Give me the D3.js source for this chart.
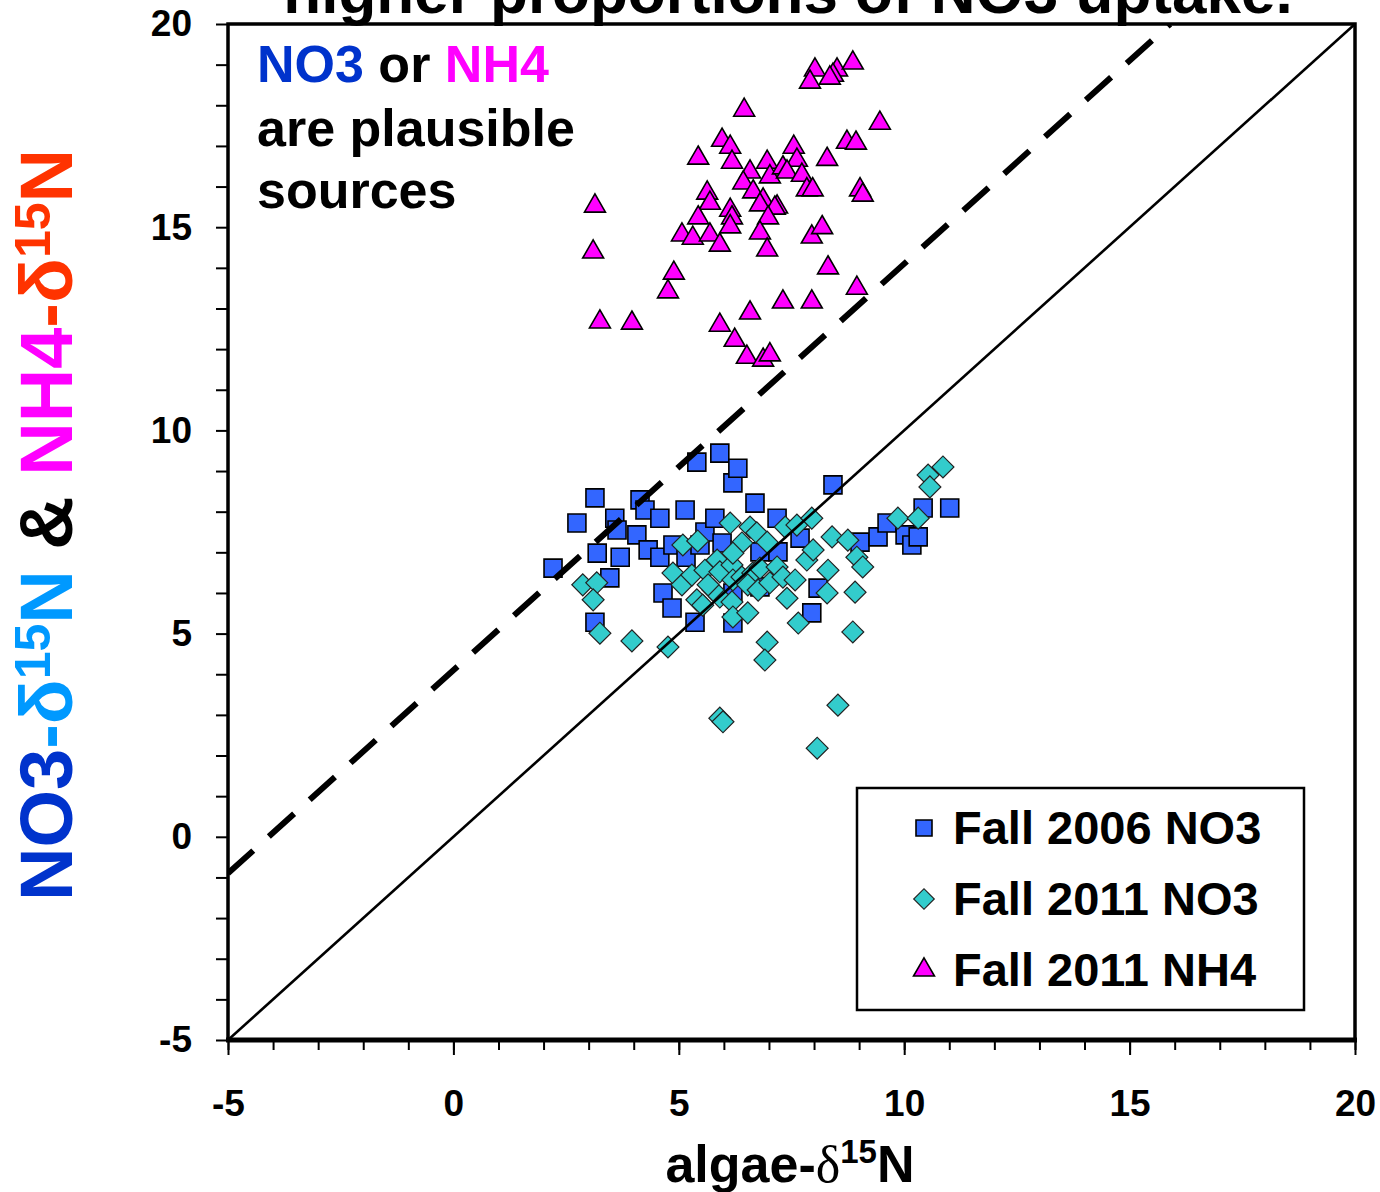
<!DOCTYPE html>
<html>
<head>
<meta charset="utf-8">
<script src="https://cdn.jsdelivr.net/npm/d3@7"></script>
<style>
  body { margin: 0; background: #fff; }
  svg { display: block; }
  text { font-family: "Liberation Sans", Arial, sans-serif; font-weight: bold; }
</style>
</head>
<body>
<svg id="chart" width="1380" height="1192"></svg>
<script>
// Axis ticks (per mil)
const majorTicks = [-5, 0, 5, 10, 15, 20];
const minorTicks = d3.range(-5, 21, 1);

// algae-d15N vs source-d15N, [algae, source]
const fall2006NO3 = [
  [2.21, 6.61], [2.74, 7.72], [3.14, 8.34], [3.19, 6.98], [3.14, 5.28], [3.47, 6.37],
  [3.70, 6.88], [3.58, 7.84], [3.63, 7.55], [4.07, 7.43], [4.14, 8.29], [4.25, 8.04],
  [4.32, 7.06], [4.58, 7.84], [4.58, 6.88], [4.65, 6.00], [4.85, 5.63], [4.87, 7.18],
  [5.14, 8.04], [5.16, 6.88], [5.36, 5.28], [5.40, 9.22], [5.47, 7.18], [5.58, 7.50],
  [5.80, 7.84], [5.91, 9.44], [5.96, 7.23], [6.20, 8.71], [6.31, 9.07], [6.20, 5.26],
  [6.20, 6.00], [6.69, 8.21], [6.80, 7.01], [6.80, 6.15], [7.18, 7.84], [7.20, 7.01],
  [7.69, 7.35], [8.09, 6.12], [7.95, 5.51], [8.42, 8.66], [9.02, 7.25], [9.42, 7.38],
  [9.62, 7.72], [10.02, 7.43], [10.17, 7.18], [10.31, 7.38], [10.42, 8.09], [11.01, 8.09]
];

const fall2011NO3 = [
  [2.87, 6.20], [3.18, 6.25], [3.10, 5.83], [3.25, 5.01], [3.96, 4.82], [4.76, 4.67],
  [5.09, 7.18], [5.42, 7.28], [4.87, 6.49], [5.07, 6.20], [5.29, 6.44], [5.58, 6.56],
  [5.40, 5.83], [5.85, 6.81], [5.91, 6.52], [6.14, 7.72], [6.40, 7.23], [6.58, 7.62],
  [6.73, 7.48], [6.18, 6.69], [6.20, 6.32], [5.91, 5.90], [5.76, 6.07], [6.18, 5.78],
  [6.20, 5.41], [6.53, 5.51], [6.40, 6.39], [6.64, 6.49], [6.80, 6.61], [6.53, 6.20],
  [6.96, 7.25], [6.76, 6.07], [7.02, 6.25], [7.18, 6.64], [7.31, 6.39], [7.36, 7.62],
  [7.62, 7.67], [7.58, 6.32], [7.40, 5.87], [7.95, 7.84], [7.84, 6.81], [7.98, 7.06],
  [8.40, 7.38], [8.31, 6.56], [8.29, 6.00], [8.75, 7.30], [8.95, 6.88], [9.08, 6.64],
  [8.91, 6.02], [7.65, 5.26], [8.86, 5.04], [6.96, 4.79], [6.91, 4.35], [5.91, 2.92],
  [5.98, 2.83], [8.53, 3.24], [8.07, 2.18], [9.86, 7.84], [10.31, 7.84], [10.53, 8.90],
  [10.57, 8.61], [10.86, 9.10], [5.65, 6.20], [6.20, 6.98], [5.53, 5.70]
];

const fall2011NH4 = [
  [8.02, 18.87], [7.91, 18.57], [8.51, 18.87], [8.42, 18.74], [8.86, 19.04], [8.35, 18.67],
  [6.45, 17.88], [9.46, 17.56], [5.96, 17.14], [6.14, 16.97], [6.18, 16.60], [5.43, 16.70],
  [7.55, 16.97], [7.62, 16.65], [6.96, 16.60], [8.29, 16.67], [8.73, 17.09], [8.93, 17.07],
  [6.58, 16.36], [7.02, 16.24], [7.31, 16.46], [7.40, 16.36], [7.73, 16.28], [7.84, 15.92],
  [7.97, 15.92], [9.02, 15.92], [9.08, 15.79], [6.43, 16.09], [6.65, 15.87], [6.87, 15.67],
  [7.18, 15.50], [5.63, 15.84], [5.69, 15.59], [6.14, 15.42], [3.14, 15.52], [3.10, 14.39],
  [5.43, 15.23], [6.18, 15.23], [6.14, 15.01], [5.07, 14.81], [5.31, 14.73], [5.69, 14.81],
  [5.91, 14.56], [6.80, 15.55], [7.13, 15.47], [6.98, 15.23], [6.80, 14.86], [6.96, 14.44],
  [7.95, 14.76], [8.18, 14.99], [8.31, 14.00], [8.95, 13.50], [4.89, 13.87], [4.76, 13.41],
  [7.31, 13.16], [7.95, 13.16], [3.25, 12.67], [3.96, 12.64], [6.58, 12.89], [5.91, 12.59],
  [6.24, 12.22], [6.51, 11.80], [6.87, 11.73], [7.02, 11.86]
];

// 1:1 line and the offset line for NH4-dominated uptake
const oneToOne = [[-5, -5], [20, 20]];
const offsetLine = [[-5, -0.9], [15.9, 20]];

const legendItems = ["Fall 2006 NO3", "Fall 2011 NO3", "Fall 2011 NH4"];

const svg = d3.select("#chart");
const margin = { left: 228, right: 1355, top: 24, bottom: 1040 };

const x = d3.scaleLinear().domain([-5, 20]).range([margin.left, margin.right]);
const y = d3.scaleLinear().domain([-5, 20]).range([margin.bottom, margin.top]);

// Heading above the frame (runs off the top of the page)
svg.append("text")
  .attr("x", 788).attr("y", 13)
  .attr("text-anchor", "middle")
  .attr("font-size", 62)
  .text("higher proportions of NO3 uptake.");

// Marker shapes
const sym = {
  square: d3.symbol().type(d3.symbolSquare).size(18 * 18),
  diamond: d3.symbol().type(d3.symbolSquare).size(15.5 * 15.5),
  triangle: d3.symbol().type(d3.symbolTriangle).size(190)
};
const styles = [
  { data: fall2006NO3, path: sym.square(), rot: 0, fill: "#3366ff", stroke: "#000", sw: 1.6 },
  { data: fall2011NO3, path: sym.diamond(), rot: 45, fill: "#33cccc", stroke: "#222", sw: 1.2 },
  { data: fall2011NH4, path: sym.triangle(), rot: 0, fill: "#ff00ff", stroke: "#000", sw: 1.6 }
];

const pts = svg.append("g");
styles.forEach(s => {
  pts.append("g").selectAll("path")
    .data(s.data)
    .join("path")
    .attr("d", s.path)
    .attr("transform", d => `translate(${x(d[0])},${y(d[1])}) rotate(${s.rot})`)
    .attr("fill", s.fill)
    .attr("stroke", s.stroke)
    .attr("stroke-width", s.sw);
});

// Reference lines
const line = d3.line().x(d => x(d[0])).y(d => y(d[1]));
const clipId = "plotClip";
svg.append("clipPath").attr("id", clipId)
  .append("rect").attr("x", margin.left).attr("y", margin.top)
  .attr("width", margin.right - margin.left).attr("height", margin.bottom - margin.top);

svg.append("path").datum(oneToOne)
  .attr("d", line).attr("fill", "none")
  .attr("stroke", "#000").attr("stroke-width", 2.6)
  .attr("clip-path", `url(#${clipId})`);

svg.append("path").datum(offsetLine)
  .attr("d", line).attr("fill", "none")
  .attr("stroke", "#000").attr("stroke-width", 6)
  .attr("stroke-dasharray", "34,21")
  .attr("clip-path", `url(#${clipId})`);

// Axes: minor ticks every 1, majors every 5 with labels
const xMinor = d3.axisBottom(x).tickValues(minorTicks).tickSize(10).tickFormat("");
const xMajor = d3.axisBottom(x).tickValues(majorTicks).tickSize(15).tickPadding(35)
  .tickFormat(d => d);
const yAxis = d3.axisLeft(y).tickValues(minorTicks).tickSize(12).tickPadding(24)
  .tickFormat(d => majorTicks.includes(d) ? d : "");

function styleAxis(g) {
  g.select(".domain").remove();
  g.selectAll("line").attr("stroke", "#000").attr("stroke-width", 2);
  g.selectAll("text").attr("fill", "#000")
    .attr("font-size", 37)
    .attr("font-family", "'Liberation Sans', Arial, sans-serif")
    .attr("font-weight", "bold");
}

svg.append("g").attr("transform", `translate(0,${margin.bottom})`).call(xMinor).call(styleAxis);
svg.append("g").attr("transform", `translate(0,${margin.bottom})`).call(xMajor).call(styleAxis);
svg.append("g").attr("transform", `translate(${margin.left},0)`).call(yAxis).call(styleAxis);

// Plot frame
svg.append("rect")
  .attr("x", margin.left).attr("y", margin.top)
  .attr("width", margin.right - margin.left).attr("height", margin.bottom - margin.top)
  .attr("fill", "none").attr("stroke", "#000").attr("stroke-width", 3.5);
svg.append("line")
  .attr("x1", margin.left - 2).attr("x2", margin.right + 2)
  .attr("y1", margin.bottom).attr("y2", margin.bottom)
  .attr("stroke", "#000").attr("stroke-width", 5);

// In-plot annotation
const note = svg.append("text").attr("font-size", 52);
const l1 = note.append("tspan").attr("x", 257).attr("y", 82);
l1.append("tspan").attr("fill", "#0033cc").text("NO3");
l1.append("tspan").attr("fill", "#000").text(" or ");
l1.append("tspan").attr("fill", "#ff00ff").text("NH4");
note.append("tspan").attr("x", 257).attr("y", 146).attr("fill", "#000").text("are plausible");
note.append("tspan").attr("x", 257).attr("y", 208).attr("fill", "#000").text("sources");

// Legend
const lg = svg.append("g");
lg.append("rect")
  .attr("x", 857).attr("y", 788).attr("width", 447).attr("height", 222)
  .attr("fill", "#fff").attr("stroke", "#000").attr("stroke-width", 2.5);
const legendSym = [
  d3.symbol().type(d3.symbolSquare).size(16 * 16)(),
  d3.symbol().type(d3.symbolSquare).size(14.5 * 14.5)(),
  d3.symbol().type(d3.symbolTriangle).size(190)()
];
legendItems.forEach((name, i) => {
  const cy = 828 + i * 71;
  const s = styles[i];
  lg.append("path")
    .attr("d", legendSym[i])
    .attr("transform", `translate(924,${cy}) rotate(${s.rot})`)
    .attr("fill", s.fill).attr("stroke", s.stroke).attr("stroke-width", s.sw);
  lg.append("text")
    .attr("x", 953).attr("y", cy + 16)
    .attr("font-size", 47).attr("fill", "#000")
    .text(name);
});

// Axis titles
const xt = svg.append("text")
  .attr("x", 790).attr("y", 1182)
  .attr("text-anchor", "middle").attr("font-size", 52).attr("fill", "#000");
xt.append("tspan").text("algae-");
xt.append("tspan").attr("font-weight", "normal").attr("font-family", "'Liberation Serif', serif").text("δ");
xt.append("tspan").attr("font-size", 33).attr("dy", -19).text("15");
xt.append("tspan").attr("dy", 19).text("N");

const yt = svg.append("text")
  .attr("transform", "translate(72,525) rotate(-90)")
  .attr("text-anchor", "middle").attr("font-size", 74);
const ySegs = [
  { t: "NO3", c: "#0033cc" },
  { t: "-δ", c: "#0099ff" },
  { t: "15", c: "#0099ff", sup: true },
  { t: "N", c: "#0099ff", down: true },
  { t: " & ", c: "#000" },
  { t: "NH4", c: "#ff00ff" },
  { t: "-δ", c: "#ff3300" },
  { t: "15", c: "#ff3300", sup: true },
  { t: "N", c: "#ff3300", down: true }
];
ySegs.forEach(s => {
  const ts = yt.append("tspan").attr("fill", s.c).text(s.t);
  if (s.sup) ts.attr("font-size", 50).attr("dy", -22);
  if (s.down) ts.attr("dy", 22);
});
</script>
</body>
</html>
